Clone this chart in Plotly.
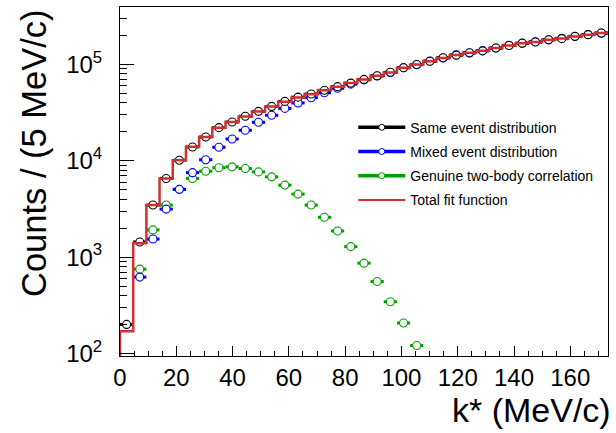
import plotly.graph_objects as go

# ---------------- data ----------------
BIN_WIDTH = 4.686          # MeV/c
N_BINS = 37
k_centers = [(i + 0.5) * BIN_WIDTH for i in range(N_BINS)]
k_edges = [i * BIN_WIDTH for i in range(N_BINS + 1)]
k_halfwidth = [BIN_WIDTH / 2] * N_BINS

same_event = [200, 1435, 3470, 6560, 10140, 13930, 17660, 22100, 25300, 29000,
              32600, 36700, 41400, 45800, 49400, 54000, 58900, 64100, 70000, 76500,
              83000, 92500, 100000, 108000, 117500, 125000, 132500, 138500, 148500, 157500,
              166500, 171000, 181000, 185500, 196000, 204000, 212000]

mixed_event = [None, 620, 1540, 3150, 5050, 7530, 10250, 13830, 16830, 20750,
               25100, 29700, 35000, 39900, 45200, 50900, 56600, 62500, 69200, 76000,
               82600, 92800, 99500, 108600, 116800, 126000, 131800, 139200, 148000, 158200,
               166000, 172000, 180200, 187000, 195000, 205000, 211500]

genuine = [None, 750, 1915, 3470, 5050, 6560, 7800, 8480, 8650, 8320,
           7670, 6810, 5590, 4510, 3470, 2590, 1867, 1284, 865, 558,
           344, 207, 121] + [None] * 14

total_fit = [170, 1393, 3467, 6560, 10140, 13950, 17700, 22000, 25300, 28900,
             32500, 36600, 41000, 45300, 49200, 53900, 58900, 64200, 69800, 76200,
             82800, 92300, 99800, 108200, 117000, 125200, 132300, 139000, 148200, 157600,
             166200, 171200, 180800, 186000, 195500, 204200, 212000]
HIST_BASE = 1  # histogram baseline (below visible range)

legend_names = ["Same event distribution", "Mixed event distribution",
                "Genuine two-body correlation", "Total fit function"]

# ---------------- styling ----------------
BLACK = "#000000"
BLUE = "#0000ff"
GREEN = "#00a000"
RED = "#d42f2f"
FONT = "Liberation Sans"

fig = go.Figure()


def points(y, color):
    return go.Scatter(
        x=k_centers, y=y, mode="markers",
        marker=dict(symbol="circle", size=8, color="white",
                    line=dict(color=color, width=1.1)),
        error_x=dict(type="data", array=k_halfwidth, color=color, thickness=3, width=0),
        showlegend=False,
    )


fig.add_trace(points(genuine, GREEN))
fig.add_trace(points(mixed_event, BLUE))
fig.add_trace(points(same_event, BLACK))

# step histogram for the total fit (drawn on top)
step_x = [k_edges[0]] + k_edges
step_y = [HIST_BASE] + total_fit + [total_fit[-1]]
fig.add_trace(go.Scatter(x=step_x, y=step_y, mode="lines", line=dict(color=RED, width=2.5, shape="hv"),
                         showlegend=False, hoverinfo="skip"))

# legend entries
for name, col, is_pts in zip(legend_names, [BLACK, BLUE, GREEN, RED], [True, True, True, False]):
    if is_pts:
        fig.add_trace(go.Scatter(x=[None], y=[None], mode="lines+markers", name=name,
                                 legendgroup=name,
                                 line=dict(color=col, width=3.5),
                                 marker=dict(symbol="circle", size=6, color="white",
                                             line=dict(color=col, width=1))))
    else:
        fig.add_trace(go.Scatter(x=[None], y=[None], mode="lines", name=name,
                                 legendgroup=name, line=dict(color=col, width=2)))

x_major = [0, 20, 40, 60, 80, 100, 120, 140, 160]
x_minor = [v for v in range(0, 175, 5) if v % 20 != 0]
y_major = [100, 1000, 10000, 100000]
y_major_text = ["10<sup>2</sup>", "10<sup>3</sup>", "10<sup>4</sup>", "10<sup>5</sup>"]
y_minor = [m * 10 ** e for e in range(2, 6) for m in range(2, 10) if m * 10 ** e < 395000]

fig.update_layout(
    width=616, height=433,
    margin=dict(l=120, r=8, t=7, b=77),
    paper_bgcolor="white", plot_bgcolor="white",
    font=dict(family=FONT, color="black"),
    showlegend=True,
    legend=dict(x=0.478, y=0.700, xanchor="left", yanchor="top",
                bgcolor="rgba(0,0,0,0)", font=dict(size=14, family=FONT),
                itemwidth=47, tracegroupgap=3, traceorder="grouped"),
    xaxis=dict(range=[0, 173.4], showgrid=False, zeroline=False, automargin=False,
               showline=True, linecolor="black", linewidth=1, mirror=True,
               tickmode="array", tickvals=x_major, ticks="inside", ticklen=10,
               tickwidth=1, tickcolor="black",
               tickfont=dict(size=24, family=FONT), ticklabelstandoff=0,
               minor=dict(tickmode="array", tickvals=x_minor, ticks="inside",
                          ticklen=5, tickwidth=1, tickcolor="black")),
    yaxis=dict(type="log", range=[1.973, 5.597], showgrid=False, zeroline=False, automargin=False,
               showline=True, linecolor="black", linewidth=1, mirror=True,
               tickmode="array", tickvals=y_major, ticktext=y_major_text,
               ticks="inside", ticklen=14, tickwidth=1, tickcolor="black",
               tickfont=dict(size=24, family=FONT), ticklabelstandoff=12,
               minor=dict(tickmode="array", tickvals=y_minor, ticks="inside",
                          ticklen=7, tickwidth=1, tickcolor="black")),
    annotations=[
        dict(text="k* (MeV/c)", xref="paper", yref="paper", x=1.0, y=0,
             xanchor="right", yanchor="top", yshift=-33, xshift=5, showarrow=False,
             font=dict(size=34, family=FONT)),
        dict(text="Counts / (5 MeV/c)", xref="paper", yref="paper", x=0, y=1,
             xanchor="center", yanchor="top", xshift=-86, textangle=-90,
             showarrow=False, font=dict(size=34.5, family=FONT)),
    ],
)

fig.write_html("out.html", post_script="document.body.style.margin='0';",
               config={"displayModeBar": False})
